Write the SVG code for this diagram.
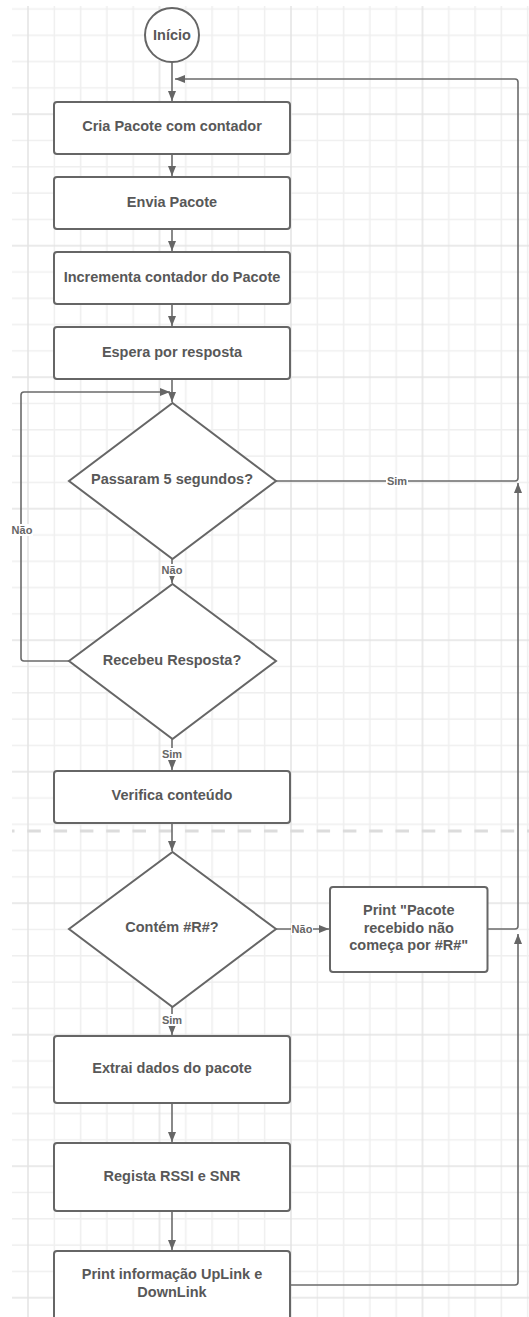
<svg xmlns="http://www.w3.org/2000/svg" width="529" height="1317" viewBox="0 0 529 1317">
<style>
.shape{fill:#ffffff;stroke:#666666;stroke-width:2}
.t{font-family:"Liberation Sans",Arial,sans-serif;font-weight:bold;font-size:14.5px;fill:#585858;text-anchor:middle}
.lbl{font-family:"Liberation Sans",Arial,sans-serif;font-weight:bold;font-size:11px;fill:#666666;text-anchor:middle}
.conn{fill:none;stroke:#6b6b6b;stroke-width:1.6}
.lblbg{fill:#ffffff}
</style>
<defs>
<pattern id="grid" patternUnits="userSpaceOnUse" x="28" y="114.2" width="131.5" height="131.5">
<g fill="#efefef">
<rect x="25.55" y="0" width="1.5" height="131.5"/>
<rect x="51.85" y="0" width="1.5" height="131.5"/>
<rect x="78.15" y="0" width="1.5" height="131.5"/>
<rect x="104.45" y="0" width="1.5" height="131.5"/>
<rect x="0" y="25.55" width="131.5" height="1.5"/>
<rect x="0" y="51.85" width="131.5" height="1.5"/>
<rect x="0" y="78.15" width="131.5" height="1.5"/>
<rect x="0" y="104.45" width="131.5" height="1.5"/>
</g>
<g fill="#e3e3e3">
<rect x="-0.75" y="0" width="1.5" height="131.5"/>
<rect x="130.75" y="0" width="1.5" height="131.5"/>
<rect x="0" y="-0.75" width="131.5" height="1.5"/>
<rect x="0" y="130.75" width="131.5" height="1.5"/>
</g>
</pattern>
<marker id="arr" markerUnits="userSpaceOnUse" markerWidth="10" markerHeight="8" refX="10" refY="4" orient="auto">
<path d="M0,0 L10,4 L0,8 z" fill="#666666"/>
</marker>
</defs>
<rect x="0" y="0" width="529" height="1317" fill="#ffffff"/>
<rect x="12" y="6" width="517" height="1311" fill="url(#grid)"/>
<line x1="12" y1="831" x2="529" y2="831" stroke="#dcdcdc" stroke-width="3" stroke-dasharray="13.5 12.8" stroke-dashoffset="11"/>

<g id="connectors">
<line class="conn" x1="172" y1="62" x2="172" y2="101" marker-end="url(#arr)"/>
<line class="conn" x1="172" y1="154" x2="172" y2="176" marker-end="url(#arr)"/>
<line class="conn" x1="172" y1="229" x2="172" y2="251" marker-end="url(#arr)"/>
<line class="conn" x1="172" y1="304" x2="172" y2="326" marker-end="url(#arr)"/>
<line class="conn" x1="172" y1="379" x2="172" y2="402" marker-end="url(#arr)"/>
<path class="conn" d="M276,481 H515 Q518,481 518,478 V82 Q518,79 515,79 H175" marker-end="url(#arr)"/>
<path class="conn" d="M487.5,929 H515 Q518,929 518,926 V483" marker-end="url(#arr)"/>
<path class="conn" d="M290,1285 H515 Q518,1285 518,1282 V934" marker-end="url(#arr)"/>
<line class="conn" x1="172" y1="559" x2="172" y2="583" marker-end="url(#arr)"/>
<path class="conn" d="M69,661 H24 Q21,661 21,658 V395 Q21,392 24,392 H170" marker-end="url(#arr)"/>
<line class="conn" x1="172" y1="739" x2="172" y2="770" marker-end="url(#arr)"/>
<line class="conn" x1="172" y1="823" x2="172" y2="851" marker-end="url(#arr)"/>
<line class="conn" x1="276" y1="929" x2="329" y2="929" marker-end="url(#arr)"/>
<line class="conn" x1="172" y1="1007" x2="172" y2="1035" marker-end="url(#arr)"/>
<line class="conn" x1="172" y1="1103" x2="172" y2="1142" marker-end="url(#arr)"/>
<line class="conn" x1="172" y1="1211" x2="172" y2="1250" marker-end="url(#arr)"/>
<rect class="lblbg" x="386" y="475" width="22" height="12"/>
<text class="lbl" x="397" y="485">Sim</text>
<rect class="lblbg" x="12" y="524" width="21" height="12"/>
<text class="lbl" x="22" y="534">Não</text>
<rect class="lblbg" x="161" y="564" width="22" height="12"/>
<text class="lbl" x="172" y="574">Não</text>
<rect class="lblbg" x="161" y="748" width="22" height="12"/>
<text class="lbl" x="172" y="758">Sim</text>
<rect class="lblbg" x="291" y="923" width="22" height="12"/>
<text class="lbl" x="302" y="933">Não</text>
<rect class="lblbg" x="161" y="1014" width="22" height="12"/>
<text class="lbl" x="172" y="1024">Sim</text>
</g>

<g id="inicio">
<circle class="shape" cx="172" cy="35" r="27"/>
<text class="t" x="172" y="40">Início</text>
</g>
<g id="cria">
<rect class="shape" x="54" y="102" width="236" height="52" rx="3"/>
<text class="t" x="172" y="131">Cria Pacote com contador</text>
</g>
<g id="envia">
<rect class="shape" x="54" y="177" width="236" height="52" rx="3"/>
<text class="t" x="172" y="206.5">Envia Pacote</text>
</g>
<g id="incrementa">
<rect class="shape" x="54" y="252" width="236" height="52" rx="3"/>
<text class="t" x="172" y="281.5">Incrementa contador do Pacote</text>
</g>
<g id="espera">
<rect class="shape" x="54" y="327" width="236" height="52" rx="3"/>
<text class="t" x="172" y="356.5">Espera por resposta</text>
</g>
<g id="passaram">
<polygon class="shape" points="172.5,403 276,481 172.5,559 69,481"/>
<text class="t" x="172" y="484">Passaram 5 segundos?</text>
</g>
<g id="recebeu">
<polygon class="shape" points="172.5,584 276,661 172.5,739 69,661"/>
<text class="t" x="172" y="665">Recebeu Resposta?</text>
</g>
<g id="verifica">
<rect class="shape" x="54" y="771" width="236" height="52" rx="3"/>
<text class="t" x="172" y="800">Verifica conteúdo</text>
</g>
<g id="contem">
<polygon class="shape" points="172.5,852 276,929 172.5,1007 69,929"/>
<text class="t" x="172" y="931.5">Contém #R#?</text>
</g>
<g id="printpacote">
<rect class="shape" x="330" y="887" width="157.5" height="85" rx="3"/>
<text class="t" x="408.75" y="915">Print "Pacote</text>
<text class="t" x="408.75" y="933">recebido não</text>
<text class="t" x="408.75" y="950">começa por #R#"</text>
</g>
<g id="extrai">
<rect class="shape" x="54" y="1036" width="236" height="67" rx="3"/>
<text class="t" x="172" y="1073">Extrai dados do pacote</text>
</g>
<g id="regista">
<rect class="shape" x="54" y="1143" width="236" height="68" rx="3"/>
<text class="t" x="172" y="1181">Regista RSSI e SNR</text>
</g>
<g id="printinfo">
<rect class="shape" x="54" y="1251" width="236" height="70" rx="3"/>
<text class="t" x="172" y="1279">Print informação UpLink e</text>
<text class="t" x="172" y="1297">DownLink</text>
</g>
</svg>
